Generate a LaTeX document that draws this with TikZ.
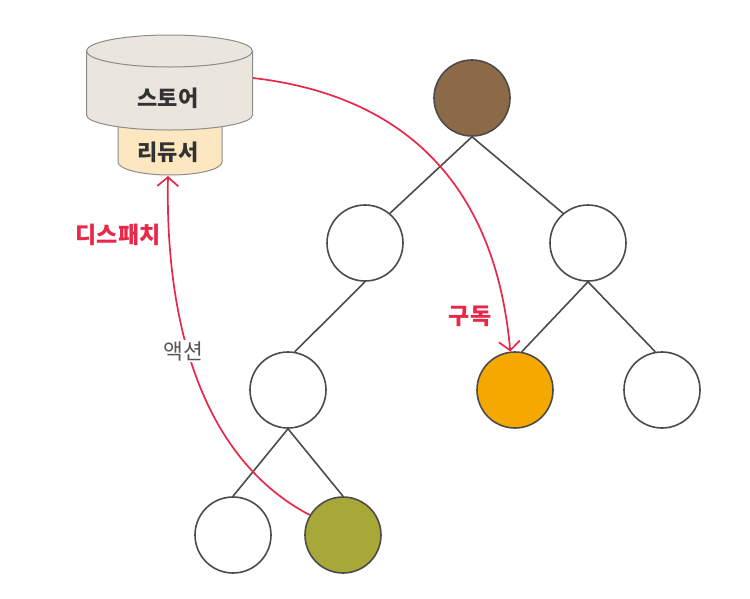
\documentclass[tikz,border=0pt]{standalone}
\usepackage{fontspec}
\newfontfamily\kr{Noto Sans CJK KR}
\usetikzlibrary{arrows.meta}
\definecolor{cbrown}{RGB}{140,106,71}
\definecolor{corange}{RGB}{245,168,0}
\definecolor{colive}{RGB}{168,168,56}
\definecolor{cstore}{RGB}{234,229,221}
\definecolor{creducer}{RGB}{252,231,192}
\definecolor{cred}{RGB}{232,40,72}
\definecolor{cline}{RGB}{75,75,75}
\definecolor{cdark}{RGB}{50,50,50}
\definecolor{cgraytxt}{RGB}{85,85,85}
\tikzset{
  circ/.style={circle, draw=cline, line width=1.6pt, minimum size=76pt, inner sep=0pt},
  edge/.style={draw=cline, line width=1.6pt},
  redarrow/.style={draw=cred, line width=1.7pt, -{Straight Barb[length=9pt,width=21pt,line width=1.7pt]}},
  boldlbl/.style={font=\kr\bfseries\fontsize{22}{26}\selectfont, text=cdark},
  redlbl/.style={font=\kr\bfseries\fontsize{23}{27}\selectfont, text=cred},
  graylbl/.style={font=\kr\fontsize{21.5}{25}\selectfont, text=cgraytxt},
  cylline/.style={draw=black!45, line width=1pt}
}
\begin{document}
\begin{tikzpicture}[x=1pt,y=-1pt]
\useasboundingbox (0,0) rectangle (750,598);
% reducer
\path[cylline, fill=creducer] (118,120) -- (118,162) arc[start angle=180,end angle=360,x radius=52pt,y radius=13pt] -- (222,120) -- cycle;
% store
\path[cylline, fill=cstore] (86.5,51) -- (86.5,115) arc[start angle=180,end angle=360,x radius=83pt,y radius=15pt] -- (252.5,51) -- cycle;
\path[cylline, fill=cstore] (169.5,51) ellipse[x radius=83pt,y radius=16pt];
\node[boldlbl] (store) at (168,98) {스토어};
\node[boldlbl] (reducer) at (168,152) {리듀서};
\coordinate (storeR) at (253,78);
\coordinate (reducerB) at (168,176);

% tree
\node[circ, fill=cbrown] (root) at (472,98) {};
\node[circ, fill=white] (L) at (365,243) {};
\node[circ, fill=white] (R) at (588,243) {};
\node[circ, fill=white] (LL) at (288,390) {};
\node[circ, fill=corange] (O) at (515,390) {};
\node[circ, fill=white] (RR) at (662,390) {};
\node[circ, fill=white] (LLL) at (233,535) {};
\node[circ, fill=colive] (LLR) at (343,535) {};

\draw[edge] (root.south) -- (L.50);
\draw[edge] (root.south) -- (R.130);
\draw[edge] (L.south) -- (LL.80);
\draw[edge] (R.south) -- (O.80);
\draw[edge] (R.south) -- (RR.100);
\draw[edge] (LL.south) -- (LLL.north);
\draw[edge] (LL.south) -- (LLR.north);

% red arrows
\draw[redarrow] (storeR) .. controls (400,95) and (495,180) .. (O.97);
\draw[redarrow] (LLR.149) .. controls (205,460) and (165,330) .. (reducerB);

\node[redlbl] (dispatch) at (118,235) {디스패치};
\node[redlbl] (subscribe) at (470,316) {구독};
\node[graylbl, fill=white, inner sep=1pt] (action) at (183,351) {액션};
\end{tikzpicture}
\end{document}
